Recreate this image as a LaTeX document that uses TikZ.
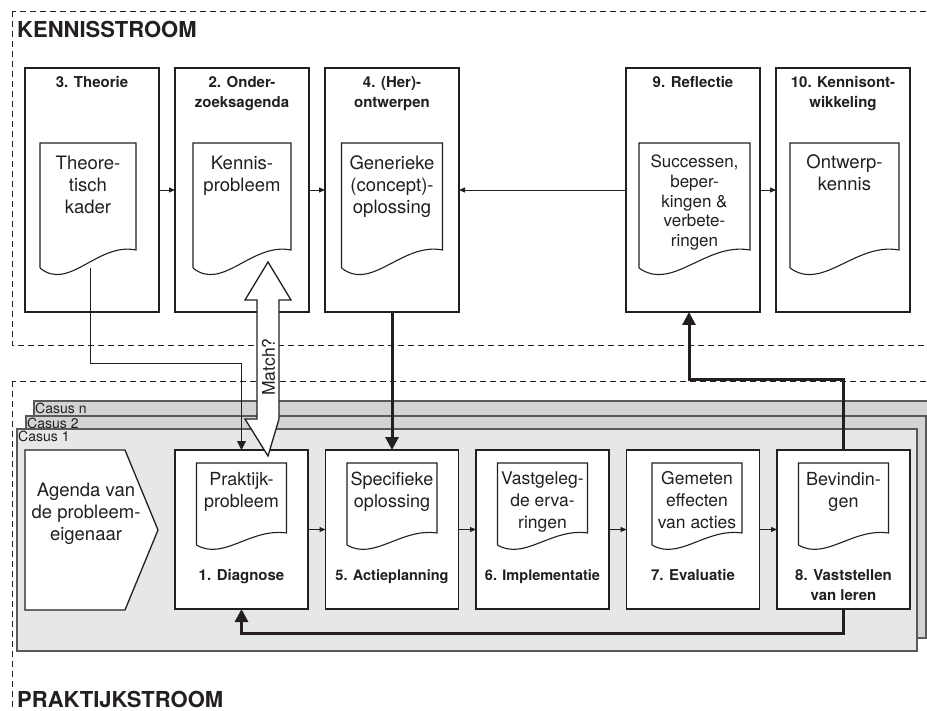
\documentclass[tikz,border=0pt]{standalone}
\usepackage{fontspec}
\setmainfont{TeX Gyre Heros}
\usetikzlibrary{positioning,arrows.meta,calc}

\definecolor{inkline}{HTML}{231F20}
\definecolor{casusline}{HTML}{58595B}
\definecolor{casuslight}{HTML}{E6E7E8}
\definecolor{casusdark}{HTML}{D1D3D4}

% document outline with a wavy lower edge
\newcommand{\docwave}[2]{%
  \draw[docline] (#1.south west) -- (#1.north west) -- (#1.north east) -- ([yshift=#2pt]#1.south east)
    .. controls ($(#1.south west)!0.6!(#1.south east)+(0pt,1.44*#2pt)$)
    and ($(#1.south west)!0.3!(#1.south east)+(0pt,-1.33*#2pt)$) .. (#1.south west);}

\begin{document}
\begin{tikzpicture}[x=1pt, y=-1pt,
  stagebox/.style={rectangle, draw=inkline, line width=1.3pt, fill=white, minimum width=134pt, minimum height=244pt, inner sep=0pt, outer sep=0pt},
  praxbox/.style={stagebox, minimum width=133pt, minimum height=159pt},
  stagetitle/.style={align=center, font=\fontsize{15}{20}\selectfont\bfseries, text=inkline, inner sep=0pt},
  docbox/.style={rectangle, inner sep=0pt, outer sep=0pt, minimum height=125pt},
  smalldoc/.style={docbox, minimum width=90pt, minimum height=82pt},
  docline/.style={draw=inkline, line width=1.1pt, fill=white},
  doctext/.style={align=center, font=\fontsize{18.5}{22}\selectfont, text=inkline, inner sep=0pt},
  streamtitle/.style={anchor=base west, font=\fontsize{22}{26}\selectfont\bfseries, text=inkline, inner sep=0pt},
  framedash/.style={draw=inkline, line width=0.9pt, dash pattern=on 6pt off 4pt},
  casus/.style={draw=casusline, line width=1.2pt},
  casuslabel/.style={anchor=north west, font=\fontsize{14}{16}\selectfont, text=inkline, inner xsep=1pt, inner ysep=1.5pt},
  thinarr/.style={-{Triangle[length=6pt,width=5pt]}, line width=0.9pt, draw=inkline},
  thickarr/.style={-{Triangle[length=13pt,width=13pt]}, line width=3pt, draw=inkline},
  matcharrow/.style={draw=inkline, line width=1.3pt, fill=white, line join=miter}
]
\useasboundingbox (0,0) rectangle (927,711);

% streams
\draw[framedash] (12,11) rectangle (945,345);
\draw[framedash] (12,381) rectangle (945,740);
\node[streamtitle] (kennisstroom) at (17,38) {KENNISSTROOM};
\node[streamtitle] (praktijkstroom) at (17,707) {PRAKTIJKSTROOM};

% cases
\draw[casus, fill=casusdark] (34,401) rectangle (945,625);
\node[casuslabel] (casusn) at (34,401) {Casus n};
\draw[casus, fill=casusdark] (26,416) rectangle (926,638);
\node[casuslabel] (casus2) at (26,416) {Casus 2};
\draw[casus, fill=casuslight] (17,429) rectangle (917,651);
\node[casuslabel] (casus1) at (17,429) {Casus 1};

% knowledge stream
\node[stagebox] (theorie) at (92,190) {};
\node[stagebox, right=16pt of theorie] (onderzoek) {};
\node[stagebox, right=16pt of onderzoek] (herontw) {};
\node[stagebox, right=167pt of herontw] (reflectie) {};
\node[stagebox, right=16pt of reflectie] (kennisontw) {};

\node[stagetitle, below=8pt of theorie.north] (ttheorie) {3. Theorie};
\node[stagetitle, below=8pt of onderzoek.north] (tonderzoek) {2. Onder-\\zoeksagenda};
\node[stagetitle, below=8pt of herontw.north] (therontw) {4. (Her)-\\ontwerpen};
\node[stagetitle, below=8pt of reflectie.north] (treflectie) {9. Reflectie};
\node[stagetitle, below=8pt of kennisontw.north] (tkennisontw) {10. Kennisont-\\wikkeling};

\node[docbox, minimum width=96pt, below=75pt of theorie.north, xshift=-4pt] (dtheorie) {};
\docwave{dtheorie}{18}
\node[doctext, below=12.7pt of dtheorie.north] (xtheorie) {Theore-\\tisch\\kader};
\node[docbox, minimum width=98pt, below=75pt of onderzoek.north] (donderzoek) {};
\docwave{donderzoek}{18}
\node[doctext, below=12.7pt of donderzoek.north] (xonderzoek) {Kennis-\\probleem};
\node[docbox, minimum width=101pt, below=75pt of herontw.north] (dherontw) {};
\docwave{dherontw}{18}
\node[doctext, below=12.7pt of dherontw.north] (xherontw) {Generieke\\(concept)-\\oplossing};
\node[docbox, minimum width=111pt, below=75pt of reflectie.north, xshift=1.5pt] (dreflectie) {};
\docwave{dreflectie}{18}
\node[doctext, font=\fontsize{17}{19.7}\selectfont, below=11.8pt of dreflectie.north] (xreflectie) {Successen,\\beper-\\kingen \&\\verbete-\\ringen};
\node[docbox, minimum width=109pt, below=75pt of kennisontw.north, xshift=1.5pt] (dkennisontw) {};
\docwave{dkennisontw}{18}
\node[doctext, below=11pt of dkennisontw.north] (xkennisontw) {Ontwerp-\\kennis};

% practice stream
\draw[draw=inkline, line width=1.3pt, fill=white] (25,450) -- (125,450) -- (158,530) -- (125,610) -- (25,610) -- cycle;
\node[doctext] (agenda) at (86,514) {Agenda van\\de probleem-\\eigenaar};

\node[praxbox] (diagnose) at (241.5,529.5) {};
\node[praxbox, right=17.5pt of diagnose] (actie) {};
\node[praxbox, right=17.5pt of actie] (implem) {};
\node[praxbox, right=17.5pt of implem] (evaluatie) {};
\node[praxbox, right=17.5pt of evaluatie] (leren) {};

\node[stagetitle, below=119pt of diagnose.north] (tdiagnose) {1. Diagnose};
\node[stagetitle, font=\fontsize{14.5}{20}\selectfont\bfseries, below=119pt of actie.north] (tactie) {5. Actieplanning};
\node[stagetitle, font=\fontsize{14.5}{20}\selectfont\bfseries, below=119pt of implem.north] (timplem) {6. Implementatie};
\node[stagetitle, below=119pt of evaluatie.north] (tevaluatie) {7. Evaluatie};
\node[stagetitle, below=119pt of leren.north] (tleren) {8. Vaststellen\\van leren};

\node[smalldoc, below=13pt of diagnose.north] (ddiagnose) {};
\docwave{ddiagnose}{12}
\node[doctext, font=\fontsize{18}{22}\selectfont, below=8.7pt of ddiagnose.north] (xdiagnose) {Praktijk-\\probleem};
\node[smalldoc, below=13pt of actie.north] (dactie) {};
\docwave{dactie}{12}
\node[doctext, font=\fontsize{18}{22}\selectfont, below=8.7pt of dactie.north] (xactie) {Specifieke\\oplossing};
\node[smalldoc, below=13pt of implem.north] (dimplem) {};
\docwave{dimplem}{12}
\node[doctext, font=\fontsize{17.5}{22}\selectfont, below=8.7pt of dimplem.north] (ximplem) {Vastgeleg-\\de erva-\\ringen};
\node[smalldoc, below=13pt of evaluatie.north, xshift=4pt] (devaluatie) {};
\docwave{devaluatie}{12}
\node[doctext, font=\fontsize{17.5}{22}\selectfont, below=8.7pt of devaluatie.north] (xevaluatie) {Gemeten\\effecten\\van acties};
\node[smalldoc, below=13pt of leren.north] (dleren) {};
\docwave{dleren}{12}
\node[doctext, font=\fontsize{18}{22}\selectfont, below=8.7pt of dleren.north] (xleren) {Bevindin-\\gen};

% flow within the streams
\draw[thinarr] (theorie) -- (onderzoek);
\draw[thinarr] (onderzoek) -- (herontw);
\draw[thinarr] (reflectie) -- (herontw);
\draw[thinarr] (reflectie) -- (kennisontw);
\draw[thinarr] (diagnose) -- (actie);
\draw[thinarr] (actie) -- (implem);
\draw[thinarr] (implem) -- (evaluatie);
\draw[thinarr] (evaluatie) -- (leren);

% between the streams
\draw[-{Triangle[length=9pt,width=9pt]}, line width=1pt, draw=inkline] ([xshift=2pt]dtheorie.south) |- ([yshift=86pt]diagnose.north) -- (diagnose.north);
\draw[thickarr] (herontw) -- (actie);
\draw[thickarr] (leren) |- ([xshift=-4pt, yshift=-68pt]reflectie.south) -- ([xshift=-4pt]reflectie.south);
\draw[thickarr] (leren.south) -- ++(0,24) -| (diagnose.south);

% match between knowledge and practice problem
\coordinate (mtop) at (268,262);
\coordinate (mbot) at (268,456);
\draw[matcharrow] (mtop) -- ++(23,38) -- ++(-12,0) |- ([xshift=11pt, yshift=37pt]mbot) -- (mbot)
  -- ++(-23,-37) -- ++(12,0) |- ([xshift=-23pt, yshift=-38pt]mtop) -- cycle;
\node[rotate=90, font=\fontsize{17.5}{20}\selectfont, text=inkline, inner sep=0pt] (match) at (268.5,367) {Match?};
\end{tikzpicture}
\end{document}
